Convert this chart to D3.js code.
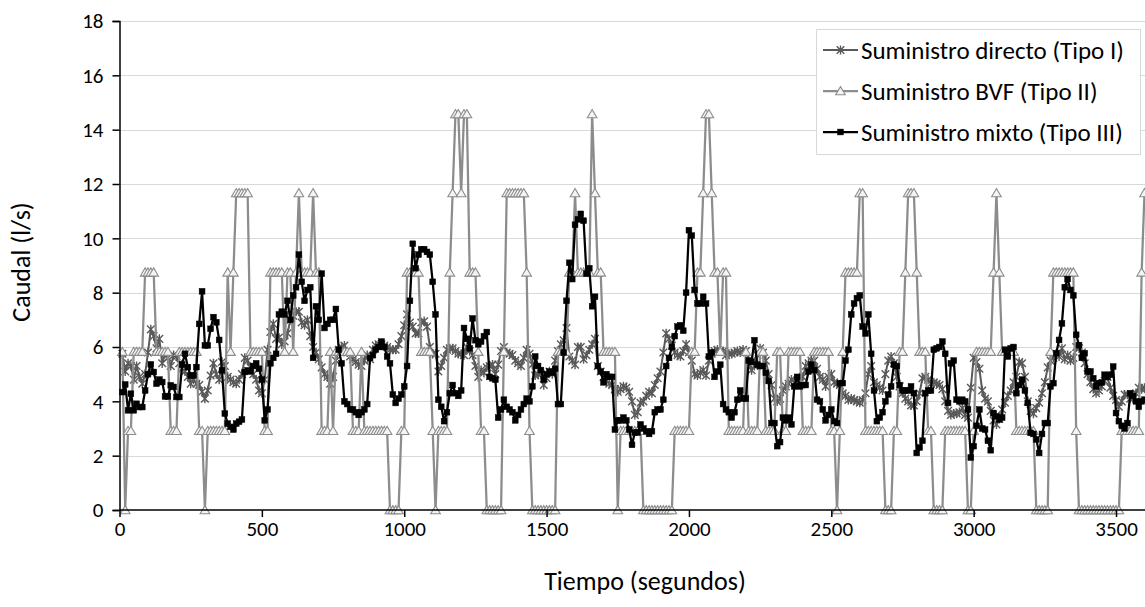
<!DOCTYPE html>
<html><head><meta charset="utf-8">
<script src="https://cdn.jsdelivr.net/npm/d3@7"></script>
<style>
html,body{margin:0;padding:0;background:#fff;}
svg{display:block;font-family:Carlito, Calibri, Lato, "Open Sans", sans-serif;}
</style></head><body>
<svg id="chart" width="1145" height="607"></svg>
<script>
// ---- data (caudal en l/s, una muestra cada 10 s, desde t = 10 s) ----
const seriesNames = ["Suministro directo (Tipo I)", "Suministro BVF (Tipo II)", "Suministro mixto (Tipo III)"];
const xTicks = [0, 500, 1000, 1500, 2000, 2500, 3000, 3500];
const yTicks = [0, 2, 4, 6, 8, 10, 12, 14, 16, 18];
const xTitle = "Tiempo (segundos)";
const yTitle = "Caudal (l/s)";

const tipoI = [
 5.75,5.1,5.4,5.3,4.8,5.3,4.9,4.65,5.0,5.8,
 6.65,6.4,5.95,6.3,5.4,5.75,5.6,5.3,5.7,5.65,
 5.4,5.2,5.1,4.9,4.65,4.8,4.65,4.6,4.35,4.1,
 4.4,4.95,5.4,5.0,4.8,5.45,5.3,4.9,4.8,4.7,
 4.65,4.8,5.0,5.6,5.5,5.25,5.0,4.8,4.4,4.3,
 4.8,5.9,6.55,6.85,6.3,6.35,6.1,6.2,6.5,7.0,
 7.15,7.3,7.3,6.9,6.8,7.0,6.4,6.0,5.8,5.55,
 5.25,5.0,4.9,4.65,4.9,5.5,5.9,6.0,6.05,5.8,
 5.65,5.55,5.45,5.35,5.3,5.5,5.7,5.55,5.9,6.05,
 6.1,6.1,6.05,6.0,5.9,5.9,5.9,6.1,6.4,6.8,
 7.2,6.9,6.75,6.5,6.5,6.9,6.95,6.75,6.0,5.75,
 5.75,5.1,5.3,5.6,5.9,5.95,5.95,5.85,5.75,5.75,
 5.7,6.0,5.85,5.7,5.3,4.9,5.15,5.05,5.25,5.3,
 5.35,5.0,5.35,5.85,6.0,5.8,5.75,5.7,5.5,5.4,
 5.3,5.6,5.9,5.75,5.35,4.95,5.0,5.0,4.6,4.85,
 5.1,5.0,5.5,5.85,6.1,6.25,6.7,5.65,5.5,5.35,
 6.0,6.0,5.55,5.7,5.9,6.1,6.3,5.3,5.1,4.9,
 4.75,4.65,4.6,4.45,4.35,4.45,4.55,4.5,4.35,4.0,
 3.5,3.6,3.95,4.0,4.2,4.35,4.3,4.6,4.85,5.1,
 5.8,6.5,6.3,6.05,5.8,5.7,5.65,5.85,6.1,5.8,
 5.5,5.0,4.95,5.05,5.15,4.95,5.5,5.75,5.85,5.9,
 5.85,5.85,5.7,5.75,5.75,5.8,5.85,5.8,5.9,5.85,
 5.5,5.15,5.3,5.7,5.95,5.8,5.5,5.0,4.6,4.1,
 4.0,4.1,4.4,4.55,4.65,4.8,4.7,4.7,4.7,4.9,
 5.3,5.4,5.5,5.5,5.2,4.9,4.8,4.55,4.9,5.0,
 4.7,4.65,4.6,4.3,4.2,4.05,4.1,4.05,4.0,3.95,
 4.05,4.3,5.0,5.3,4.7,4.6,4.5,4.4,5.0,5.5,
 5.65,5.4,4.9,4.55,4.3,4.1,4.0,3.85,3.85,4.0,
 4.3,4.85,4.9,4.8,4.65,4.7,4.65,4.6,4.45,4.0,
 3.65,3.5,3.55,3.55,3.6,3.75,3.5,3.4,4.5,5.6,
 5.45,5.2,4.4,4.1,4.0,3.65,3.3,3.15,3.35,3.7,
 3.95,4.2,4.4,4.7,4.9,5.45,5.4,4.9,4.0,3.65,
 3.55,3.75,3.95,4.3,4.7,5.25,5.5,5.6,5.75,5.65,
 5.95,5.55,5.7,5.5,5.6,6.0,5.95,5.8,5.4,5.0,
 4.7,4.45,4.3,4.4,4.55,4.75,4.9,4.5,4.2,4.05,
 3.8,4.0,4.25,4.25,4.1,4.1,4.3,4.5,4.45,4.5
];

const tipoII = [
 5.83,0,2.92,2.92,5.83,5.83,5.83,5.83,8.75,8.75,
 8.75,8.75,5.83,5.83,5.83,5.83,5.83,2.92,2.92,2.92,
 5.83,5.83,5.83,5.83,5.83,5.83,5.83,2.92,2.92,0,
 2.92,2.92,2.92,2.92,2.92,2.92,2.92,8.75,5.83,8.75,
 11.67,11.67,11.67,11.67,11.67,5.83,5.83,5.83,5.83,5.83,
 2.92,2.92,8.75,8.75,8.75,8.75,8.75,5.83,8.75,8.75,
 5.83,8.75,11.67,8.75,8.75,8.75,8.75,11.67,8.75,8.75,
 2.92,2.92,2.92,5.83,2.92,5.83,5.83,5.83,5.83,5.83,
 5.83,2.92,2.92,2.92,5.83,2.92,2.92,2.92,2.92,2.92,
 2.92,2.92,2.92,2.92,0,0,0,0,2.92,2.92,
 8.75,8.75,8.75,8.75,8.75,5.83,5.83,5.83,5.83,2.92,
 0,2.92,2.92,2.92,2.92,8.75,11.67,14.58,14.58,11.67,
 14.58,14.58,8.75,8.75,8.75,5.83,2.92,2.92,0,0,
 0,0,0,0,5.83,11.67,11.67,11.67,11.67,11.67,
 11.67,11.67,8.75,2.92,0,0,0,0,0,0,
 0,0,0,5.83,5.83,5.83,5.83,8.75,8.75,11.67,
 8.75,8.75,8.75,8.75,8.75,14.58,11.67,8.75,8.75,5.83,
 5.83,5.83,5.83,5.83,0,2.92,2.92,2.92,2.92,2.92,
 2.92,2.92,2.92,0,0,0,0,0,0,0,
 0,0,0,0,2.92,2.92,2.92,2.92,2.92,2.92,
 5.83,5.83,8.75,8.75,11.67,14.58,14.58,11.67,8.75,8.75,
 5.83,8.75,8.75,2.92,2.92,2.92,2.92,2.92,2.92,5.83,
 2.92,2.92,2.92,2.92,5.83,5.83,2.92,2.92,2.92,2.92,
 5.83,5.83,2.92,2.92,5.83,5.83,5.83,5.83,5.83,2.92,
 2.92,2.92,2.92,5.83,5.83,5.83,5.83,5.83,5.83,2.92,
 2.92,0,2.92,5.83,8.75,8.75,8.75,8.75,8.75,11.67,
 11.67,2.92,2.92,2.92,2.92,2.92,2.92,2.92,0,0,
 0,2.92,2.92,5.83,5.83,8.75,11.67,11.67,11.67,8.75,
 5.83,5.83,5.83,2.92,2.92,0,0,0,0,2.92,
 2.92,2.92,2.92,2.92,2.92,2.92,2.92,0,0,2.92,
 5.83,5.83,5.83,5.83,5.83,5.83,8.75,11.67,8.75,5.83,
 5.83,5.83,5.83,5.83,2.92,2.92,2.92,2.92,2.92,2.92,
 2.92,0,0,0,0,0,5.83,8.75,8.75,8.75,
 8.75,8.75,8.75,8.75,8.75,2.92,0,0,0,0,
 0,0,0,0,0,0,0,0,0,0,
 0,2.92,2.92,2.92,2.92,2.92,2.92,2.92,8.75,11.67
];

const tipoIII = [
 4.34,4.62,3.67,4.28,3.67,3.91,3.79,3.79,4.40,5.0,
 5.36,5.08,4.65,4.80,4.71,4.18,4.18,4.59,4.53,4.16,
 4.16,5.36,5.75,5.26,4.95,4.95,5.26,6.85,8.05,6.06,
 6.06,6.67,7.1,6.91,6.26,5.14,3.55,3.18,3.06,2.96,
 3.18,3.25,3.33,5.08,5.14,5.1,5.3,5.4,5.2,4.8,
 3.3,3.7,5.4,5.6,5.75,7.2,7.3,7.2,7.7,7.0,
 7.9,8.2,9.4,8.4,7.7,8.1,8.2,5.6,7.5,7.0,
 8.7,6.7,6.85,7.0,7.0,7.4,5.9,5.4,4.0,3.9,
 3.7,3.7,3.6,3.5,3.6,3.7,3.9,5.6,5.7,5.9,
 6.0,6.2,6.0,5.65,5.4,4.25,3.94,4.1,4.25,4.55,
 5.3,7.7,9.8,8.9,9.4,9.6,9.6,9.5,9.4,8.4,
 7.2,4.06,3.8,3.27,3.6,4.3,4.6,4.3,4.2,4.4,
 6.7,6.3,5.95,7.05,6.25,6.1,6.2,6.4,6.55,4.9,
 4.85,4.8,3.4,3.7,4.06,3.8,3.7,3.6,3.3,3.5,
 3.7,3.9,4.1,4.0,4.55,5.65,5.3,5.15,4.8,5.0,
 5.1,5.05,5.2,3.9,3.9,5.8,7.7,9.1,8.5,10.5,
 10.7,10.9,10.65,8.7,8.9,7.5,7.85,5.3,5.1,4.7,
 5.0,4.9,4.9,2.96,3.3,3.3,3.4,3.3,2.96,2.4,
 2.85,2.85,3.15,3.0,2.9,2.8,2.9,3.6,3.7,3.7,
 4.06,5.3,5.6,6.0,6.4,6.75,6.8,6.6,8.0,10.3,
 10.1,8.1,7.6,7.6,7.85,7.6,5.65,5.8,4.9,5.1,
 5.35,3.9,3.7,3.6,3.4,3.6,4.06,4.4,4.1,4.1,
 5.5,5.45,6.25,5.35,5.3,5.3,5.05,4.75,3.2,3.2,
 2.35,2.5,3.4,3.3,3.4,3.15,4.55,4.9,4.55,4.6,
 4.6,5.1,5.35,5.15,4.06,4.0,3.7,3.3,3.5,3.7,
 3.27,3.2,4.67,4.67,5.5,5.9,7.2,7.6,7.8,7.9,
 6.75,6.5,7.2,5.75,4.4,3.27,3.4,3.6,4.0,4.25,
 4.55,5.35,5.3,4.6,4.4,4.4,4.4,4.55,4.3,2.1,
 2.3,2.55,4.3,4.4,4.4,5.9,5.95,6.0,6.2,5.75,
 3.94,5.4,5.5,4.06,4.0,4.06,4.0,3.7,1.93,2.35,
 3.1,3.7,3.0,2.96,2.55,2.2,3.57,3.45,3.33,3.4,
 5.9,5.65,5.95,6.0,4.3,4.6,4.8,4.4,3.94,2.84,
 2.8,2.6,2.1,2.8,3.2,3.2,4.55,4.67,5.77,6.26,
 6.87,8.2,8.5,8.1,7.9,6.45,6.07,5.6,5.77,5.1,
 5.1,4.85,4.55,4.67,4.7,4.98,4.9,4.98,5.28,3.57,
 3.27,3.1,3.0,3.2,4.3,4.2,4.0,3.8,4.0,4.06
];

const tiempos = tipoI.map((_, i) => (i + 1) * 10);

// ---- layout ----
const svg = d3.select("#chart");
const W = 1145, H = 607;
const plot = {left: 119.5, right: 1144.5, top: 21, bottom: 510};
const FONT = "Carlito, Calibri, Lato, 'Open Sans', sans-serif";

const x = d3.scaleLinear().domain([0, 3600]).range([plot.left, plot.right]);
const y = d3.scaleLinear().domain([0, 18]).range([plot.bottom, plot.top]);

svg.append("rect").attr("width", W).attr("height", H).attr("fill", "#fff");

// gridlines
svg.append("g").selectAll("line").data(yTicks.filter(d => d > 0)).join("line")
  .attr("x1", plot.left).attr("x2", W)
  .attr("y1", d => Math.round(y(d)) + 0.5).attr("y2", d => Math.round(y(d)) + 0.5)
  .attr("stroke", "#d9d9d9").attr("stroke-width", 1);

// clip
svg.append("defs").append("clipPath").attr("id", "clip")
  .append("rect").attr("x", plot.left - 6).attr("y", 0).attr("width", W - plot.left + 6).attr("height", plot.bottom + 8);

const lineGen = d3.line().x((d, i) => x(tiempos[i])).y(d => y(d));

const styles = [
  {data: tipoI, color: "#595959", width: 2, marker: "star"},
  {data: tipoII, color: "#8c8c8c", width: 2.25, marker: "tri"},
  {data: tipoIII, color: "#000000", width: 2.25, marker: "sq"}
];

function drawMarker(g, type, color) {
  if (type === "star") {
    const s = 3.8;
    g.append("path")
      .attr("d", `M${-s},${-s}L${s},${s}M${-s},${s}L${s},${-s}M0,${-s-0.8}L0,${s+0.8}`)
      .attr("stroke", color).attr("stroke-width", 1.4).attr("fill", "none");
  } else if (type === "tri") {
    g.append("path").attr("d", "M0,-4.4L4.8,3.8L-4.8,3.8Z")
      .attr("fill", "#f4f4f4").attr("stroke", color).attr("stroke-width", 1.1);
  } else {
    g.append("rect").attr("x", -2.9).attr("y", -2.9).attr("width", 5.8).attr("height", 5.8)
      .attr("fill", color).attr("stroke", color).attr("stroke-width", 0.5);
  }
}

const plotG = svg.append("g").attr("clip-path", "url(#clip)");
styles.forEach(st => {
  const g = plotG.append("g");
  g.append("path").datum(st.data).attr("d", lineGen)
    .attr("fill", "none").attr("stroke", st.color).attr("stroke-width", st.width)
    .attr("stroke-linejoin", "round");
  g.selectAll("g.m").data(st.data).join("g").attr("class", "m")
    .attr("transform", (d, i) => `translate(${x(tiempos[i])},${y(d)})`)
    .each(function() { drawMarker(d3.select(this), st.marker, st.color); });
});

// axes
const yAxis = d3.axisLeft(y).tickValues(yTicks).tickSize(7).tickPadding(9).tickFormat(d3.format("d"));
const yg = svg.append("g").attr("transform", `translate(${plot.left},0)`).call(yAxis);
const xAxis = d3.axisBottom(x).tickValues(xTicks).tickSize(7).tickPadding(4).tickFormat(d3.format("d"));
const xg = svg.append("g").attr("transform", `translate(0,${plot.bottom})`).call(xAxis);
[yg, xg].forEach(g => {
  g.select(".domain").attr("stroke", "#000").attr("stroke-width", 1.5);
  g.selectAll(".tick line").attr("stroke", "#000").attr("stroke-width", 1.5);
  g.selectAll(".tick text").attr("fill", "#000").style("font-size", "21px").style("font-family", FONT);
});
xg.select(".domain").attr("d", `M${plot.left},0H${W}`);

// axis titles
svg.append("text").attr("x", 645).attr("y", 590).attr("text-anchor", "middle")
  .style("font-size", "26px").style("font-family", FONT).attr("fill", "#000").text(xTitle);
svg.append("text").attr("transform", `translate(30,262) rotate(-90)`).attr("text-anchor", "middle")
  .style("font-size", "26px").style("font-family", FONT).attr("fill", "#000").text(yTitle);

// legend
const leg = svg.append("g");
leg.append("rect").attr("x", 816.5).attr("y", 29.5).attr("width", 324).attr("height", 125)
  .attr("fill", "#fff").attr("stroke", "#d9d9d9").attr("stroke-width", 1);
styles.forEach((st, i) => {
  const cy = 50 + i * 41;
  leg.append("line").attr("x1", 823).attr("x2", 858).attr("y1", cy).attr("y2", cy)
    .attr("stroke", st.color).attr("stroke-width", st.width);
  const mg = leg.append("g").attr("transform", `translate(840.5,${cy})`);
  drawMarker(mg, st.marker, st.color);
  leg.append("text").attr("x", 861).attr("y", cy).attr("dy", "0.35em")
    .style("font-size", "25px").style("font-family", FONT).attr("fill", "#000").text(seriesNames[i]);
});
</script>
</body></html>
